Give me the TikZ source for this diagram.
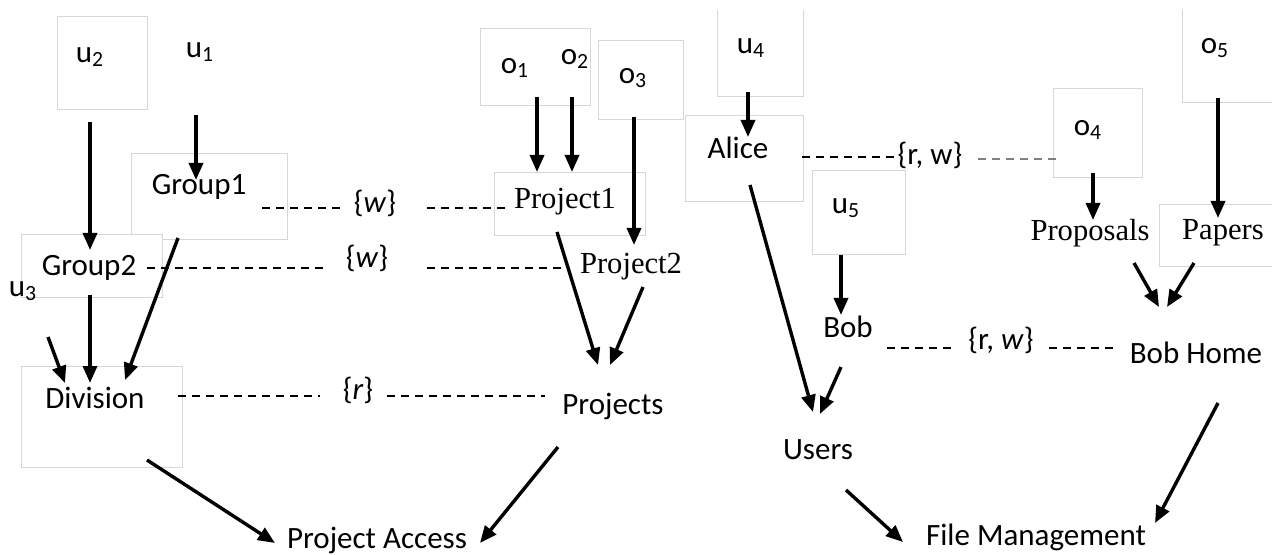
\documentclass[tikz,border=0pt]{standalone}
\usepackage{fontspec}
\setmainfont{Carlito}
\newfontfamily\serifface{Liberation Serif}
\usetikzlibrary{arrows.meta,calc}

\begin{document}
\begin{tikzpicture}[x=0.5pt,y=-0.5pt,
  box/.style 2 args={draw=black!16, fill=white, line width=0.5pt,
    minimum width=#1*0.5pt, minimum height=#2*0.5pt, inner sep=0pt},
  lbl/.style={inner sep=0pt, font=\fontsize{15.5}{18}\selectfont},
  slbl/.style={inner sep=0pt, font=\serifface\fontsize{15.3}{18}\selectfont},
  arr/.style={line width=1.7pt, -{Triangle[length=8.5pt,width=7pt]}},
  dsh/.style={line width=0.7pt, dash pattern=on 4pt off 3pt},
  gdsh/.style={line width=1.1pt, draw=black!50, dash pattern=on 4pt off 3pt}]
\useasboundingbox (0,0) rectangle (1272,555);

% frames (the top strip of the sheet stays blank)
\begin{scope}
\clip (-5,10.5) rectangle (1280,560);
\node[box={90}{93}]   (u2box)  at (102,63.5) {};
\node[box={156}{86}]  (g1box)  at (209,197) {};
\node[box={141}{63}]  (g2box)  at (91.5,266.5) {};
\node[box={161}{101}] (divbox) at (101.5,416.5) {};
\node[box={110}{77}]  (o12box) at (535,67.5) {};
\node[box={85}{79}]   (o3box)  at (640.5,80.5) {};
\node[box={151}{63}]  (p1box)  at (569.5,204.5) {};
\node[box={86}{102}]  (u4box)  at (760,46) {};
\node[box={118}{86}]  (alicebox) at (744,159) {};
\node[box={93}{84}]   (u5box)  at (858.5,213) {};
\node[box={89}{89}]   (o4box)  at (1097.5,133.5) {};
\node[box={100}{108}] (o5box)  at (1232,49) {};
\node[box={123}{62}]  (papbox) at (1220.5,236) {};
\end{scope}

% labels: left group
\node[lbl] (u2) at (90,57) {u\textsubscript{2}};
\node[lbl] (u1) at (200,52) {u\textsubscript{1}};
\node[lbl] (u3) at (23,291) {u\textsubscript{3}};
\node[lbl] (G1) at (199,187) {Group1};
\node[lbl] (G2) at (89,268) {Group2};
\node[lbl] (Div) at (95,398) {Division};
\node[lbl] (w1) at (375,203) {\{\textit{w}\}};
\node[lbl] (w2) at (367,258) {\{\textit{w}\}};
\node[lbl] (r1) at (358,390) {\{\textit{r}\}};
\node[lbl] (PA) at (377,540) {Project Access};

% labels: projects
\node[lbl] (o1) at (515,68) {o\textsubscript{1}};
\node[lbl] (o2) at (575,59) {o\textsubscript{2}};
\node[lbl] (o3) at (633,78) {o\textsubscript{3}};
\node[slbl] (P1) at (565,202) {Project1};
\node[slbl] (P2) at (631,267) {Project2};
\node[lbl] (Ps) at (613,406) {Projects};

% labels: right group
\node[lbl] (u4) at (751,48) {u\textsubscript{4}};
\node[lbl] (Al) at (738,148) {Alice};
\node[lbl] (rw1) at (930,155) {\{r, w\}};
\node[lbl] (u5) at (846,208) {u\textsubscript{5}};
\node[lbl] (Bob) at (848,327) {Bob};
\node[lbl] (Us) at (818,450) {Users};
\node[lbl] (rw2) at (1001,340) {\{r, \textit{w}\}};
\node[lbl] (BH) at (1196,353) {Bob Home};
\node[lbl] (FM) at (1036,537) {File Management};
\node[lbl] (o4) at (1088,130) {o\textsubscript{4}};
\node[lbl] (o5) at (1215,48) {o\textsubscript{5}};
\node[slbl] (Prop) at (1090,233) {Proposals};
\node[slbl] (Pap) at (1223,233) {Papers};

% permission links
\draw[dsh] ($(G1)+(63,21)$) -- ($(w1)+(-30,5)$);
\draw[dsh] ($(w1)+(52,5)$) -- ($(P1)+(-60,6)$);
\draw[dsh] ($(G2)+(58,0)$) -- ($(w2)+(-40,10)$);
\draw[dsh] ($(w2)+(60,10)$) -- ($(P2)+(-64,1)$);
\draw[dsh] ($(Div)+(83,-2)$) -- ($(r1)+(-38,6)$);
\draw[dsh] ($(r1)+(29,6)$) -- ($(Ps)+(-68,-10)$);
\draw[dsh] ($(Al)+(64,9)$) -- ($(rw1)+(-35,2)$);
\draw[gdsh] ($(rw1)+(48,4)$) -- ($(o4)+(-28,29)$);
\draw[dsh] ($(Bob)+(39,21)$) -- ($(rw2)+(-46,8)$);
\draw[dsh] ($(rw2)+(48,8)$) -- ($(BH)+(-79,-5)$);

% hierarchy arrows
\draw[arr] ($(u2)+(0,65)$) -- ($(G2)+(1,-18)$);
\draw[arr] ($(u1)+(-4,63)$) -- ($(G1)+(-3,-7)$);
\draw[arr] ($(u3)+(25,46)$) -- ($(Div)+(-30,-15)$);
\draw[arr] ($(G2)+(1,27)$) -- ($(Div)+(-5,-15)$);
\draw[arr] ($(G1)+(-21,51)$) -- ($(Div)+(30,-18)$);
\draw[arr] ($(Div)+(52,62)$) -- ($(PA)+(-102,3)$);
\draw[arr] ($(o1)+(22,29)$) -- ($(P1)+(-28,-30)$);
\draw[arr] ($(o2)+(-3,38)$) -- ($(P1)+(7,-30)$);
\draw[arr] ($(o3)+(1,39)$) -- ($(P2)+(3,-22)$);
\draw[arr] ($(P1)+(-8,30)$) -- ($(Ps)+(-15,-41)$);
\draw[arr] ($(P2)+(12,20)$) -- ($(Ps)+(-3,-41)$);
\draw[arr] ($(Ps)+(-55,41)$) -- ($(PA)+(103,3)$);
\draw[arr] ($(u4)+(-3,44)$) -- ($(Al)+(10,-11)$);
\draw[arr] ($(Al)+(12,37)$) -- ($(Us)+(-5,-38)$);
\draw[arr] ($(u5)+(-5,47)$) -- ($(Bob)+(-7,-12)$);
\draw[arr] ($(Bob)+(-7,40)$) -- ($(Us)+(2,-36)$);
\draw[arr] ($(Us)+(28,40)$) -- ($(FM)+(-133,5)$);
\draw[arr] ($(o4)+(5,43)$) -- ($(Prop)+(3,-13)$);
\draw[arr] ($(o5)+(3,50)$) -- ($(Pap)+(-5,-15)$);
\draw[arr] ($(Prop)+(44,30)$) -- ($(BH)+(-37,-46)$);
\draw[arr] ($(Pap)+(-29,30)$) -- ($(BH)+(-29,-46)$);
\draw[arr] ($(BH)+(22,50)$) -- ($(FM)+(119,-14)$);
\end{tikzpicture}
\end{document}
